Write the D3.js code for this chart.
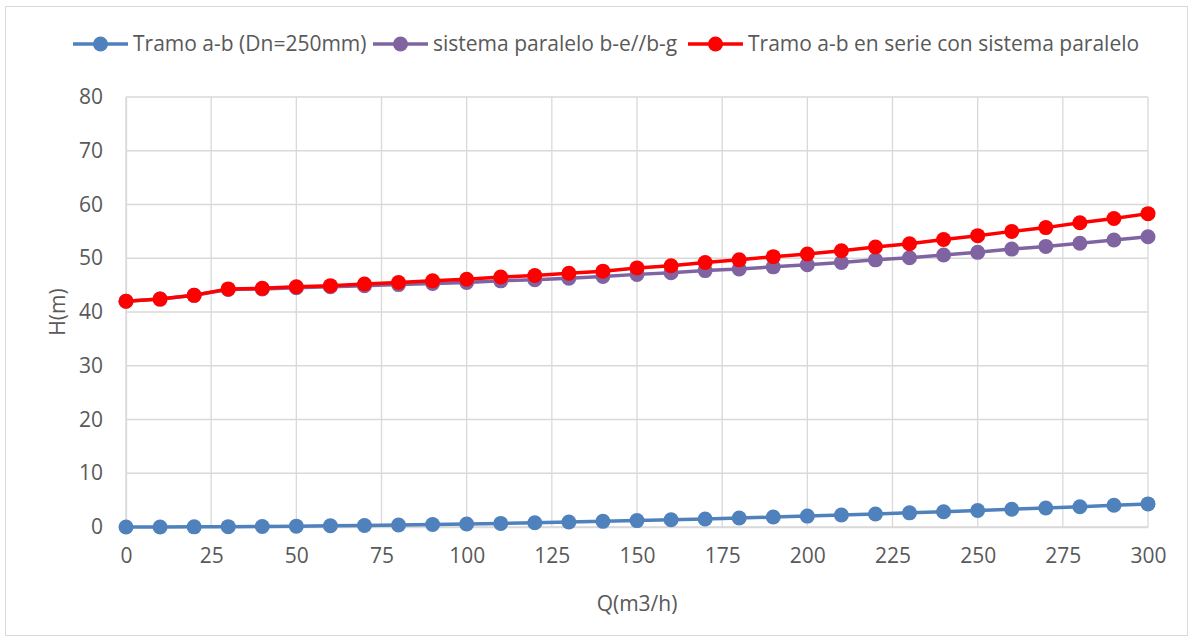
<!DOCTYPE html>
<html>
<head>
<meta charset="utf-8">
<script src="https://cdn.jsdelivr.net/npm/d3@7"></script>
<style>
  body { margin: 0; background: #fff; }
  text { font-family: "Open Sans", "Noto Sans", sans-serif; fill: #595959; }
</style>
</head>
<body>
<div id="chart"></div>
<script>
// caudal Q (m3/h)
const caudales = [0, 10, 20, 30, 40, 50, 60, 70, 80, 90, 100, 110, 120, 130, 140, 150,
  160, 170, 180, 190, 200, 210, 220, 230, 240, 250, 260, 270, 280, 290, 300];

// H (m) por serie
const tramoAB = [0, 0.01, 0.03, 0.06, 0.1, 0.16, 0.22, 0.29, 0.37, 0.46, 0.56, 0.67, 0.79, 0.92,
  1.05, 1.19, 1.34, 1.5, 1.67, 1.85, 2.03, 2.22, 2.42, 2.63, 2.85, 3.07, 3.3, 3.54, 3.78, 4.04, 4.3];
const paralelo = [42.0, 42.4, 43.1, 44.2, 44.3, 44.5, 44.7, 44.9, 45.1, 45.3, 45.5, 45.8, 46.0, 46.3,
  46.6, 47.0, 47.3, 47.7, 48.0, 48.4, 48.8, 49.2, 49.7, 50.1, 50.6, 51.1, 51.7, 52.2, 52.8, 53.4, 54.0];
const serie = [42.0, 42.4, 43.1, 44.3, 44.4, 44.7, 44.9, 45.2, 45.5, 45.8, 46.1, 46.5, 46.8, 47.2,
  47.6, 48.2, 48.6, 49.2, 49.7, 50.3, 50.8, 51.4, 52.1, 52.7, 53.5, 54.2, 55.0, 55.7, 56.6, 57.4, 58.3];

const seriesNames = ["Tramo a-b (Dn=250mm)", "sistema paralelo b-e//b-g", "Tramo a-b en serie con sistema paralelo"];
const seriesColors = ["#4f81bd", "#8064a2", "#ff0000"];
const xTicks = [0, 25, 50, 75, 100, 125, 150, 175, 200, 225, 250, 275, 300];
const yTicks = [0, 10, 20, 30, 40, 50, 60, 70, 80];

const width = 1193, height = 642;
const plot = { left: 126, right: 1148, top: 97, bottom: 527 };
const fontSize = "21px";

const svg = d3.select("#chart").append("svg")
  .attr("width", width)
  .attr("height", height);

// borde del grafico
svg.append("rect")
  .attr("x", 5.5).attr("y", 6.5)
  .attr("width", 1182).attr("height", 629)
  .attr("fill", "#fff")
  .attr("stroke", "#d9d9d9");

const x = d3.scaleLinear().domain([0, 300]).range([plot.left, plot.right]);
const y = d3.scaleLinear().domain([0, 80]).range([plot.bottom, plot.top]);

// grilla
const grid = svg.append("g").attr("stroke", "#d9d9d9").attr("stroke-width", 1.3);
grid.selectAll(".h").data(yTicks).enter().append("line")
  .attr("x1", plot.left).attr("x2", plot.right)
  .attr("y1", d => y(d)).attr("y2", d => y(d));
grid.selectAll(".v").data(xTicks).enter().append("line")
  .attr("y1", plot.top).attr("y2", plot.bottom)
  .attr("x1", d => x(d)).attr("x2", d => x(d));

// ejes
const xAxis = svg.append("g")
  .attr("transform", `translate(0,${plot.bottom})`)
  .call(d3.axisBottom(x).tickValues(xTicks).tickSize(0).tickPadding(21));
const yAxis = svg.append("g")
  .attr("transform", `translate(${plot.left},0)`)
  .call(d3.axisLeft(y).tickValues(yTicks).tickSize(0).tickPadding(23));
[xAxis, yAxis].forEach(a => {
  a.select(".domain").attr("stroke", "#d9d9d9").attr("stroke-width", 1.3);
  a.selectAll("text").style("font-size", fontSize).attr("fill", "#595959");
});

svg.append("text")
  .attr("x", (plot.left + plot.right) / 2)
  .attr("y", 611)
  .attr("text-anchor", "middle")
  .style("font-size", fontSize)
  .text("Q(m3/h)");

svg.append("text")
  .attr("transform", `translate(65,${(plot.top + plot.bottom) / 2}) rotate(-90)`)
  .attr("text-anchor", "middle")
  .style("font-size", fontSize)
  .text("H(m)");

// series
const data = [tramoAB, paralelo, serie];
const line = d3.line().x((d, i) => x(caudales[i])).y(d => y(d));

data.forEach((vals, k) => {
  const g = svg.append("g");
  g.append("path")
    .datum(vals)
    .attr("fill", "none")
    .attr("stroke", seriesColors[k])
    .attr("stroke-width", 3.5)
    .attr("stroke-linejoin", "round")
    .attr("d", line);
  g.selectAll("circle").data(vals).enter().append("circle")
    .attr("cx", (d, i) => x(caudales[i]))
    .attr("cy", d => y(d))
    .attr("r", 7.5)
    .attr("fill", seriesColors[k]);
});

// leyenda
const legendX = [73, 373, 688];
const legend = svg.append("g");
seriesNames.forEach((name, k) => {
  const lx = legendX[k];
  legend.append("line")
    .attr("x1", lx).attr("x2", lx + 55)
    .attr("y1", 44).attr("y2", 44)
    .attr("stroke", seriesColors[k])
    .attr("stroke-width", 3.5);
  legend.append("circle")
    .attr("cx", lx + 27.5).attr("cy", 44).attr("r", 7.5)
    .attr("fill", seriesColors[k]);
  legend.append("text")
    .attr("x", lx + 60).attr("y", 44)
    .attr("dy", "0.35em")
    .style("font-size", fontSize)
    .text(name);
});
</script>
</body>
</html>
